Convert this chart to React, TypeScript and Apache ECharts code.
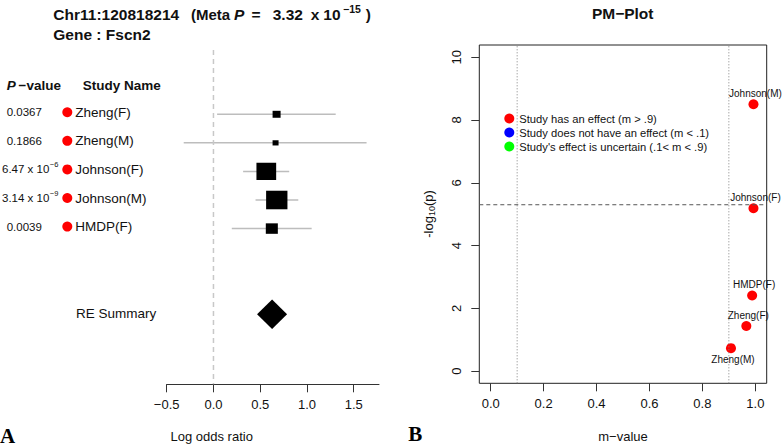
import React, { useEffect, useRef } from "react";
import * as echarts from "echarts";

const FONT = "Liberation Sans";

// ---------- data ----------
const studyNames = ["Zheng(F)", "Zheng(M)", "Johnson(F)", "Johnson(M)", "HMDP(F)"];
const studyPValues = [0.0367, 0.1866, 6.47e-6, 3.14e-9, 0.0039];
const studyLogOR = [0.675, 0.664, 0.565, 0.677, 0.624];
const studyCILow = [0.039, -0.318, 0.317, 0.45, 0.196];
const studyCIHigh = [1.307, 1.637, 0.81, 0.907, 1.05];
const studyWeights = [5.9, 3.3, 35.7, 41.8, 13.3];
const studyMValues = [0.966, 0.908, 0.993, 0.993, 0.988];
const summaryLabels = ["RE Summary"];
const summaryLogOR = [0.627];
const summaryCILow = [0.466];
const summaryCIHigh = [0.787];
const metaPValue = 3.32e-15;
const snpPosition = "Chr11:120818214";
const geneName = "Fscn2";
const logOddsTicks = [-0.5, 0, 0.5, 1, 1.5];
const mValueTicks = [0, 0.2, 0.4, 0.6, 0.8, 1];
const logPTicks = [0, 2, 4, 6, 8, 10];
const mThresholds = [0.1, 0.9];
const logPThreshold = [5.3];
const legendLabels = [
  "Study has an effect (m > .9)",
  "Study does not have an effect (m < .1)",
  "Study's effect is uncertain (.1< m < .9)",
];

// ---------- helpers ----------
let measureCtx: CanvasRenderingContext2D | null = null;
function textWidth(text: string, size: number, weight = "normal", style = "normal") {
  if (!measureCtx) measureCtx = document.createElement("canvas").getContext("2d");
  if (!measureCtx) return text.length * size * 0.55;
  measureCtx.font = `${style} ${weight} ${size}px "${FONT}"`;
  return measureCtx.measureText(text).width;
}

function splitP(p: number) {
  if (p >= 0.001) return { base: String(p), exp: "" };
  const e = Math.floor(Math.log10(p));
  const m = p / Math.pow(10, e);
  return { base: m.toFixed(2) + " x 10", exp: "\u2212" + Math.abs(e) };
}

function txt(x: number, y: number, text: string, size: number, extra: any = {}) {
  return {
    type: "text",
    x,
    y,
    style: {
      text,
      fontSize: size,
      fontFamily: FONT,
      fill: "#111",
      align: "left",
      verticalAlign: "middle",
      ...extra,
    },
  };
}

const Y_MIN_F = -1.25;
const Y_MAX_F = 10.45;
const X_MIN_PM = -0.043;
const X_MAX_PM = 1.043;
const Y_MIN_PM = -0.39;
const Y_MAX_PM = 10.39;

export default function App() {
  const ref = useRef<HTMLDivElement>(null);

  useEffect(() => {
    if (!ref.current) return;
    const chart = echarts.init(ref.current, undefined, { renderer: "svg" });

    const metaSplit = splitP(metaPValue);
    const metaMantissa = metaSplit.base.replace(" x 10", "");

    const forestData = studyNames.map((_, i) => [
      studyLogOR[i],
      i + 1,
      studyCILow[i],
      studyCIHigh[i],
      studyWeights[i],
    ]);
    const summaryRow = studyNames.length + 3;
    const summaryData = summaryLabels.map((_, i) => [
      summaryLogOR[i],
      summaryRow,
      summaryCILow[i],
      summaryCIHigh[i],
      i,
    ]);
    const tableData = studyNames.map((_, i) => [0, i + 1, i]);

    const logP = studyPValues.map((p) => -Math.log10(p));
    const minLogP = Math.min(...logP);
    const pmData = studyNames.map((n, i) => ({
      name: n,
      value: [studyMValues[i], logP[i]],
      label: { position: logP[i] === minLogP ? "bottom" : "top" },
    }));

    const fmtSigned = (v: number) => (v < 0 ? "\u2212" : "") + Math.abs(v).toFixed(1);

    const titleY = 14.5;
    const titleSize = 15.5;
    const bold = { fontWeight: "bold" };

    const option: any = {
      animation: false,
      textStyle: { fontFamily: FONT },
      grid: [
        { left: 166.7, top: 50, width: 212.3, height: 334.3 },
        {
          left: 479.3,
          top: 45,
          width: 287.4,
          height: 338.3,
          show: true,
          borderColor: "#222",
          borderWidth: 1,
          backgroundColor: "transparent",
        },
      ],
      xAxis: [
        {
          gridIndex: 0,
          type: "value",
          min: -0.5,
          max: 1.77,
          splitLine: { show: false },
          axisLine: { show: true, onZero: false, lineStyle: { color: "#333", width: 1 } },
          axisTick: { show: true, length: 8, customValues: logOddsTicks, lineStyle: { color: "#333" } },
          axisLabel: {
            customValues: logOddsTicks,
            margin: 14,
            fontSize: 13,
            color: "#111",
            fontFamily: FONT,
            formatter: fmtSigned,
          },
        },
        {
          gridIndex: 1,
          type: "value",
          min: X_MIN_PM,
          max: X_MAX_PM,
          splitLine: { show: false },
          axisLine: { show: false, onZero: false },
          axisTick: { show: true, length: 8, customValues: mValueTicks, lineStyle: { color: "#333" } },
          axisLabel: {
            customValues: mValueTicks,
            margin: 14,
            fontSize: 13,
            color: "#111",
            fontFamily: FONT,
            formatter: (v: number) => v.toFixed(1),
          },
        },
      ],
      yAxis: [
        { gridIndex: 0, type: "value", min: Y_MIN_F, max: Y_MAX_F, inverse: true, show: false },
        {
          gridIndex: 1,
          type: "value",
          min: Y_MIN_PM,
          max: Y_MAX_PM,
          splitLine: { show: false },
          axisLine: { show: false, onZero: false },
          axisTick: { show: true, length: 8, customValues: logPTicks, lineStyle: { color: "#333" } },
          axisLabel: {
            customValues: logPTicks,
            rotate: 90,
            margin: 16,
            fontSize: 13,
            color: "#111",
            fontFamily: FONT,
          },
        },
      ],
      legend: {
        data: legendLabels,
        orient: "vertical",
        left: 504.3,
        top: 113,
        padding: 0,
        itemWidth: 10,
        itemHeight: 10,
        itemGap: 3,
        icon: "circle",
        selectedMode: false,
        textStyle: { fontSize: 11.2, color: "#111", fontFamily: FONT },
      },
      series: [
        {
          type: "line",
          xAxisIndex: 0,
          yAxisIndex: 0,
          data: [
            [0, Y_MIN_F],
            [0, Y_MAX_F],
          ],
          symbol: "none",
          silent: true,
          lineStyle: { color: "#c8c8c8", width: 1.5, type: [5, 4] },
        },
        {
          type: "custom",
          xAxisIndex: 0,
          yAxisIndex: 0,
          clip: false,
          data: forestData,
          renderItem: (_p: any, api: any) => {
            const est = api.value(0);
            const row = api.value(1);
            const lo = api.coord([api.value(2), row]);
            const hi = api.coord([api.value(3), row]);
            const c = api.coord([est, row]);
            const side = 3.3 * Math.sqrt(api.value(4));
            const h = side * 0.87;
            return {
              type: "group",
              children: [
                {
                  type: "line",
                  shape: { x1: lo[0], y1: lo[1], x2: hi[0], y2: hi[1] },
                  style: { stroke: "#bdbdbd", lineWidth: 1.5 },
                },
                {
                  type: "rect",
                  shape: { x: c[0] - side / 2, y: c[1] - h / 2, width: side, height: h },
                  style: { fill: "#000" },
                },
              ],
            };
          },
        },
        {
          type: "custom",
          xAxisIndex: 0,
          yAxisIndex: 0,
          clip: false,
          data: summaryData,
          renderItem: (_p: any, api: any) => {
            const row = api.value(1);
            const c = api.coord([api.value(0), row]);
            const lo = api.coord([api.value(2), row]);
            const hi = api.coord([api.value(3), row]);
            const hh = 14.7;
            return {
              type: "group",
              children: [
                {
                  type: "polygon",
                  shape: {
                    points: [
                      [lo[0], c[1]],
                      [c[0], c[1] - hh],
                      [hi[0], c[1]],
                      [c[0], c[1] + hh],
                    ],
                  },
                  style: { fill: "#000" },
                },
                txt(76, c[1] - 1, summaryLabels[api.value(4)], 13.5),
              ],
            };
          },
        },
        {
          type: "custom",
          xAxisIndex: 0,
          yAxisIndex: 0,
          clip: false,
          data: [[0, 0]],
          renderItem: (_p: any, api: any) => {
            const y = api.coord([0, api.value(1)])[1] - 0.5;
            return {
              type: "group",
              children: [
                txt(6.7, y, "P", 13.5, { fontWeight: "bold", fontStyle: "italic" }),
                txt(18.5, y, "\u2212value", 13.5, bold),
                txt(82.7, y, "Study Name", 13.5, bold),
              ],
            };
          },
        },
        {
          type: "custom",
          xAxisIndex: 0,
          yAxisIndex: 0,
          clip: false,
          data: tableData,
          renderItem: (_p: any, api: any) => {
            const idx = api.value(2);
            const y = api.coord([0, api.value(1)])[1] - 2;
            const sp = splitP(studyPValues[idx]);
            const baseX = sp.exp ? 2 : 6.7;
            const children: any[] = [txt(baseX, y, sp.base, 11.5)];
            if (sp.exp) {
              children.push(txt(baseX + textWidth(sp.base, 11.5) + 0.5, y - 4.5, sp.exp, 7.5));
            }
            children.push({ type: "circle", shape: { cx: 67.3, cy: y, r: 5 }, style: { fill: "#ff0000" } });
            children.push(txt(75.3, y, studyNames[idx], 13.5));
            return { type: "group", children };
          },
        },
        ...mThresholds.map((m) => ({
          type: "line",
          xAxisIndex: 1,
          yAxisIndex: 1,
          data: [
            [m, Y_MIN_PM],
            [m, Y_MAX_PM],
          ],
          symbol: "none",
          silent: true,
          lineStyle: { color: "#808080", width: 1, type: [1, 2] },
        })),
        ...logPThreshold.map((t) => ({
          type: "line",
          xAxisIndex: 1,
          yAxisIndex: 1,
          data: [
            [X_MIN_PM, t],
            [X_MAX_PM, t],
          ],
          symbol: "none",
          silent: true,
          lineStyle: { color: "#555", width: 1, type: [4, 3] },
        })),
        {
          name: legendLabels[0],
          type: "scatter",
          xAxisIndex: 1,
          yAxisIndex: 1,
          symbol: "circle",
          symbolSize: 10,
          itemStyle: { color: "#ff0000", opacity: 1 },
          data: pmData,
          label: {
            show: true,
            formatter: "{b}",
            fontSize: 10,
            color: "#111",
            fontFamily: FONT,
            distance: 1,
            offset: [2, 0],
          },
        },
        {
          name: legendLabels[1],
          type: "scatter",
          xAxisIndex: 1,
          yAxisIndex: 1,
          symbolSize: 10,
          itemStyle: { color: "#0000ff", opacity: 1 },
          data: [],
        },
        {
          name: legendLabels[2],
          type: "scatter",
          xAxisIndex: 1,
          yAxisIndex: 1,
          symbolSize: 10,
          itemStyle: { color: "#00ff00", opacity: 1 },
          data: [],
        },
      ],
      graphic: [
        txt(53.3, titleY, snpPosition, titleSize, bold),
        txt(191, titleY, "(Meta", 15, bold),
        txt(234, titleY, "P", titleSize, { fontWeight: "bold", fontStyle: "italic" }),
        txt(251.5, titleY, "=", titleSize, bold),
        txt(272.7, titleY, metaMantissa, titleSize, bold),
        txt(310.7, titleY, "x", titleSize, bold),
        txt(323.3, titleY, "10", titleSize, bold),
        txt(323.3 + textWidth("10", titleSize, "bold") + 2.5, 9, metaSplit.exp, 10.5, bold),
        txt(365.7, titleY, ")", titleSize, bold),
        txt(53.3, 34, "Gene : " + geneName, titleSize, bold),
        txt(622.7, 13, "PM\u2212Plot", titleSize, { fontWeight: "bold", align: "center" }),
        txt(211.7, 436.7, "Log odds ratio", 13, { align: "center" }),
        txt(623, 436.7, "m\u2212value", 13, { align: "center" }),
        {
          type: "text",
          x: 428,
          y: 214,
          rotation: Math.PI / 2,
          style: {
            text: "-log{s|10}(p)",
            fontSize: 13,
            fontFamily: FONT,
            fill: "#111",
            align: "center",
            verticalAlign: "middle",
            lineHeight: 16,
            rich: {
              s: { fontSize: 9, fontFamily: FONT, fill: "#111", verticalAlign: "bottom", lineHeight: 11 },
            },
          },
        },
        txt(0, 435.5, "A", 21, { fontWeight: "bold", fontFamily: "Liberation Serif", fill: "#000" }),
        txt(408.3, 434, "B", 21, { fontWeight: "bold", fontFamily: "Liberation Serif", fill: "#000" }),
      ],
    };

    chart.setOption(option);
    return () => chart.dispose();
  }, []);

  return (
    <div
      ref={ref}
      style={{ position: "absolute", left: 0, top: 0, width: 784, height: 448, background: "#fff" }}
    />
  );
}
